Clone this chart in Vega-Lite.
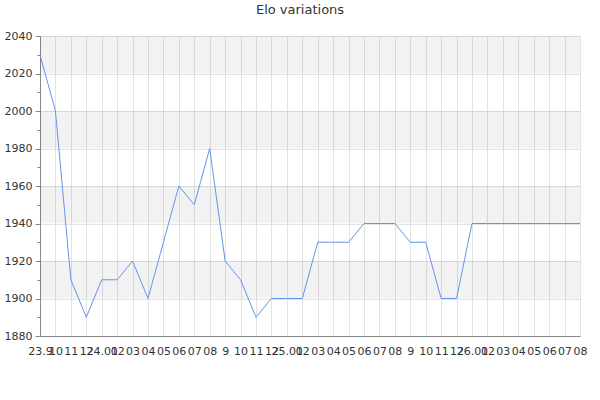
{
  "$schema": "https://vega.github.io/schema/vega-lite/v6.json",
  "autosize": "none",
  "width": 540,
  "height": 300,
  "padding": {"left": 40, "top": 36, "right": 20, "bottom": 64},
  "background": "white",
  "title": {
    "text": "Elo variations",
    "font": "DejaVu Sans",
    "fontSize": 13,
    "fontWeight": "normal",
    "color": "#333333",
    "anchor": "middle",
    "frame": "group",
    "dx": -10,
    "offset": 13
  },
  "config": {
    "view": {"stroke": null},
    "axis": {
      "labelFont": "DejaVu Sans",
      "labelFontSize": 11,
      "labelColor": "#333333",
      "domainColor": "#888888",
      "tickColor": "#888888",
      "gridColor": "#e2e2e2",
      "title": null
    },
    "axisY": {
      "labelOverlap": false,
      "labelFlush": false
    }
  },
  "datasets": {
    "elo": [
      {"month": "2023-09", "elo": 2030},
      {"month": "2023-10", "elo": 2000},
      {"month": "2023-11", "elo": 1910},
      {"month": "2023-12", "elo": 1890},
      {"month": "2024-01", "elo": 1910},
      {"month": "2024-02", "elo": 1910},
      {"month": "2024-03", "elo": 1920},
      {"month": "2024-04", "elo": 1900},
      {"month": "2024-05", "elo": 1930},
      {"month": "2024-06", "elo": 1960},
      {"month": "2024-07", "elo": 1950},
      {"month": "2024-08", "elo": 1980},
      {"month": "2024-09", "elo": 1920},
      {"month": "2024-10", "elo": 1910},
      {"month": "2024-11", "elo": 1890},
      {"month": "2024-12", "elo": 1900},
      {"month": "2025-01", "elo": 1900},
      {"month": "2025-02", "elo": 1900},
      {"month": "2025-03", "elo": 1930},
      {"month": "2025-04", "elo": 1930},
      {"month": "2025-05", "elo": 1930},
      {"month": "2025-06", "elo": 1940},
      {"month": "2025-07", "elo": 1940},
      {"month": "2025-08", "elo": 1940},
      {"month": "2025-09", "elo": 1930},
      {"month": "2025-10", "elo": 1930},
      {"month": "2025-11", "elo": 1900},
      {"month": "2025-12", "elo": 1900},
      {"month": "2026-01", "elo": 1940},
      {"month": "2026-02", "elo": 1940},
      {"month": "2026-03", "elo": 1940},
      {"month": "2026-04", "elo": 1940},
      {"month": "2026-05", "elo": 1940},
      {"month": "2026-06", "elo": 1940},
      {"month": "2026-07", "elo": 1940},
      {"month": "2026-08", "elo": 1940}
    ],
    "bands": [
      {"lo": 2020, "hi": 2040},
      {"lo": 1980, "hi": 2000},
      {"lo": 1940, "hi": 1960},
      {"lo": 1900, "hi": 1920}
    ]
  },
  "layer": [
    {
      "data": {"name": "bands"},
      "mark": {"type": "rect", "color": "#000000", "opacity": 0.05},
      "encoding": {
        "y": {
          "field": "lo",
          "type": "quantitative",
          "scale": {"domain": [1880, 2040], "nice": false},
          "axis": {
            "values": [1880, 1890, 1900, 1910, 1920, 1930, 1940, 1950, 1960, 1970, 1980, 1990, 2000, 2010, 2020, 2030, 2040],
            "format": "d",
            "grid": true,
            "labelOverlap": false,
            "labelFlush": false,
            "labelPadding": 3,
            "labelExpr": "datum.value % 20 == 0 ? datum.label : ''",
            "tickSize": {"condition": {"test": "datum.value % 20 == 0", "value": 5}, "value": 3},
            "gridOpacity": {"condition": {"test": "datum.value % 20 == 0", "value": 1}, "value": 0}
          }
        },
        "y2": {"field": "hi"}
      }
    },
    {
      "data": {"name": "elo"},
      "mark": {"type": "line", "color": "#6495ed", "strokeWidth": 1},
      "encoding": {
        "x": {
          "field": "month",
          "type": "ordinal",
          "scale": {"type": "point", "padding": 0},
          "axis": {
            "labelAngle": 0,
            "labelOverlap": false,
            "labelFlush": false,
            "labelBound": false,
            "ticks": false,
            "labelPadding": 9,
            "grid": true,
            "labelExpr": "datum.value == '2023-09' ? '23.9' : substring(datum.value, 5, 7) == '01' ? substring(datum.value, 2, 4) + '.01' : substring(datum.value, 5, 7) == '09' ? '9' : substring(datum.value, 5, 7)"
          }
        },
        "y": {
          "field": "elo",
          "type": "quantitative",
          "scale": {"domain": [1880, 2040], "nice": false},
          "axis": {
            "values": [1880, 1890, 1900, 1910, 1920, 1930, 1940, 1950, 1960, 1970, 1980, 1990, 2000, 2010, 2020, 2030, 2040],
            "format": "d",
            "grid": true,
            "labelOverlap": false,
            "labelFlush": false,
            "labelPadding": 3,
            "labelExpr": "datum.value % 20 == 0 ? datum.label : ''",
            "tickSize": {"condition": {"test": "datum.value % 20 == 0", "value": 5}, "value": 3},
            "gridOpacity": {"condition": {"test": "datum.value % 20 == 0", "value": 1}, "value": 0}
          }
        }
      }
    }
  ]
}
